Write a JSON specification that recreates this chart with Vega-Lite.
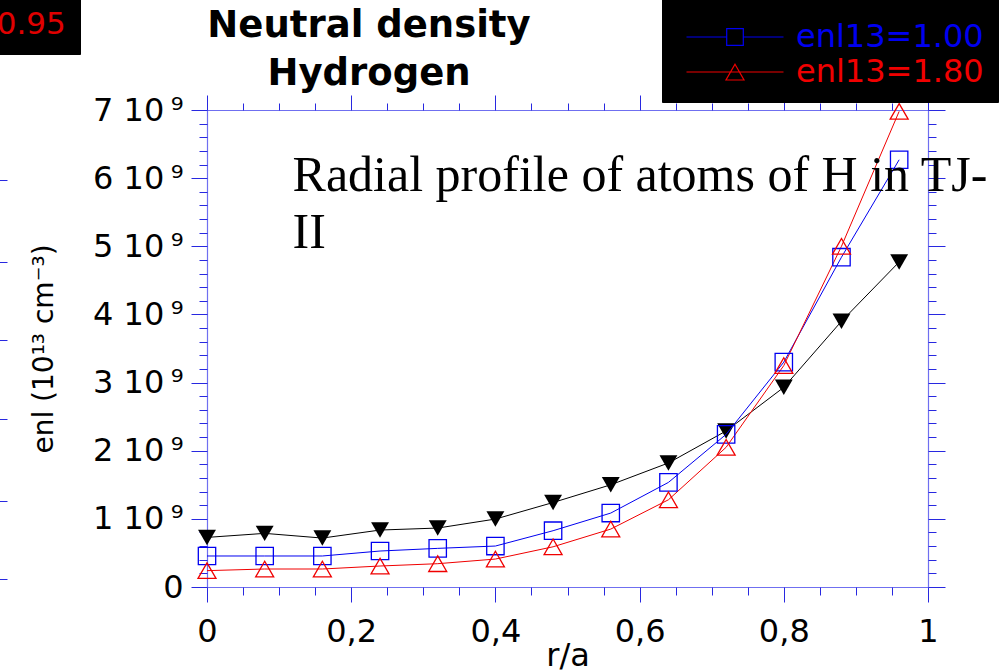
{
  "$schema": "https://vega.github.io/schema/vega-lite/v6.json",
  "width": 721,
  "height": 477,
  "autosize": {"type": "none"},
  "padding": {"left": 207, "top": 110, "right": 76, "bottom": 83},
  "background": "white",
  "config": {"view": {"stroke": null}, "axis": {"grid": false}},
  "title": {
    "text": ["Neutral density", "Hydrogen"],
    "anchor": "start",
    "align": "center",
    "dx": 162,
    "offset": -98,
    "font": "DejaVu Sans",
    "fontSize": 37,
    "fontWeight": "bold",
    "color": "black",
    "lineHeight": 48,
    "frame": "group"
  },
  "datasets": {
    "prof": [
      {"r": 0, "v": 7.28e8, "s": "enl13=0.95"},
      {"r": 0.08, "v": 7.87e8, "s": "enl13=0.95"},
      {"r": 0.16, "v": 7.18e8, "s": "enl13=0.95"},
      {"r": 0.24, "v": 8.36e8, "s": "enl13=0.95"},
      {"r": 0.32, "v": 8.65e8, "s": "enl13=0.95"},
      {"r": 0.4, "v": 9.97e8, "s": "enl13=0.95"},
      {"r": 0.48, "v": 1.24e9, "s": "enl13=0.95"},
      {"r": 0.56, "v": 1.5e9, "s": "enl13=0.95"},
      {"r": 0.64, "v": 1.82e9, "s": "enl13=0.95"},
      {"r": 0.72, "v": 2.29e9, "s": "enl13=0.95"},
      {"r": 0.8, "v": 2.93e9, "s": "enl13=0.95"},
      {"r": 0.88, "v": 3.9e9, "s": "enl13=0.95"},
      {"r": 0.96, "v": 4.77e9, "s": "enl13=0.95"},
      {"r": 0, "v": 4.55e8, "s": "enl13=1.00"},
      {"r": 0.08, "v": 4.55e8, "s": "enl13=1.00"},
      {"r": 0.16, "v": 4.55e8, "s": "enl13=1.00"},
      {"r": 0.24, "v": 5.28e8, "s": "enl13=1.00"},
      {"r": 0.32, "v": 5.67e8, "s": "enl13=1.00"},
      {"r": 0.4, "v": 6.01e8, "s": "enl13=1.00"},
      {"r": 0.48, "v": 8.26e8, "s": "enl13=1.00"},
      {"r": 0.56, "v": 1.085e9, "s": "enl13=1.00"},
      {"r": 0.64, "v": 1.535e9, "s": "enl13=1.00"},
      {"r": 0.72, "v": 2.24e9, "s": "enl13=1.00"},
      {"r": 0.8, "v": 3.3e9, "s": "enl13=1.00"},
      {"r": 0.88, "v": 4.84e9, "s": "enl13=1.00"},
      {"r": 0.96, "v": 6.27e9, "s": "enl13=1.00"},
      {"r": 0, "v": 2.4e8, "s": "enl13=1.80"},
      {"r": 0.08, "v": 2.64e8, "s": "enl13=1.80"},
      {"r": 0.16, "v": 2.64e8, "s": "enl13=1.80"},
      {"r": 0.24, "v": 3.08e8, "s": "enl13=1.80"},
      {"r": 0.32, "v": 3.42e8, "s": "enl13=1.80"},
      {"r": 0.4, "v": 4.1e8, "s": "enl13=1.80"},
      {"r": 0.48, "v": 5.9e8, "s": "enl13=1.80"},
      {"r": 0.56, "v": 8.5e8, "s": "enl13=1.80"},
      {"r": 0.64, "v": 1.28e9, "s": "enl13=1.80"},
      {"r": 0.72, "v": 2.05e9, "s": "enl13=1.80"},
      {"r": 0.8, "v": 3.25e9, "s": "enl13=1.80"},
      {"r": 0.88, "v": 5.0e9, "s": "enl13=1.80"},
      {"r": 0.96, "v": 6.98e9, "s": "enl13=1.80"}
    ],
    "note": [{"label": "Radial profile of atoms of H in TJ-\nII", "r": 0.1187, "v": 5.81e9}]
  },
  "data": {"name": "prof"},
  "layer": [
    {
      "transform": [{"filter": "datum.s === 'enl13=0.95'"}],
      "mark": {"type": "line", "color": "black", "strokeWidth": 1},
      "encoding": {
        "x": {"field": "r", "type": "quantitative", "scale": {"domain": [0, 1], "nice": false, "zero": false},
          "axis": {"orient": "bottom", "values": [0, 0.2, 0.4, 0.6, 0.8, 1], "tickSize": 15, "tickColor": "#2828e0", "domainColor": "#6f6ff0", "domainWidth": 1.2,
            "labelExpr": "replace(format(datum.value, '~g'), '.', ',')", "labelFont": "DejaVu Sans", "labelFontSize": 32, "labelColor": "black", "labelPadding": 14, "labelFlush": false, "labelOverlap": false,
            "title": "r/a", "titleFont": "DejaVu Sans", "titleFontSize": 32, "titleFontWeight": "normal", "titleColor": "black", "titleX": 360.5, "titleY": 53, "titleBaseline": "top", "titleAlign": "center"}},
        "y": {"field": "v", "type": "quantitative", "scale": {"domain": [0, 7e9], "nice": false, "zero": false},
          "axis": {"orient": "left", "values": [0, 1e9, 2e9, 3e9, 4e9, 5e9, 6e9, 7e9], "tickSize": 16, "tickColor": "#2828e0", "domainColor": "#6f6ff0", "domainWidth": 1.2,
            "labelExpr": "datum.value == 0 ? '0' : format(datum.value / 1e9, 'd') + ' 10\u2009⁹'", "labelFont": "DejaVu Sans", "labelFontSize": 32, "labelColor": "black", "labelPadding": 8, "labelFlush": false, "labelOverlap": false, "labelBaseline": "middle",
            "title": "enl (10¹³ cm⁻³)", "titleFont": "DejaVu Sans", "titleFontSize": 28, "titleFontWeight": "normal", "titleColor": "black", "titleX": -155, "titleY": 238.5, "titleBaseline": "alphabetic", "titleAngle": -90, "titleAlign": "center"}}
      }
    },
    {
      "transform": [{"filter": "datum.s === 'enl13=0.95'"}],
      "mark": {"type": "point", "shape": "triangle-down", "filled": true, "size": 320, "opacity": 1},
      "encoding": {
        "x": {"field": "r", "type": "quantitative",
          "axis": {"orient": "bottom", "values": [0, 0.05, 0.1, 0.15, 0.2, 0.25, 0.3, 0.35, 0.4, 0.45, 0.5, 0.55, 0.6, 0.65, 0.7, 0.75, 0.8, 0.85, 0.9, 0.95, 1], "tickSize": 8, "tickColor": "#2828e0", "labels": false, "domain": false, "title": null}},
        "y": {"field": "v", "type": "quantitative",
          "axis": {"orient": "left", "values": [0, 2e8, 4e8, 6e8, 8e8, 1e9, 1.2e9, 1.4e9, 1.6e9, 1.8e9, 2e9, 2.2e9, 2.4e9, 2.6e9, 2.8e9, 3e9, 3.2e9, 3.4e9, 3.6e9, 3.8e9, 4e9, 4.2e9, 4.4e9, 4.6e9, 4.8e9, 5e9, 5.2e9, 5.4e9, 5.6e9, 5.8e9, 6e9, 6.2e9, 6.4e9, 6.6e9, 6.8e9, 7e9], "tickSize": 8, "tickColor": "#2828e0", "labels": false, "domain": false, "title": null}},
        "fill": {"field": "s", "type": "nominal", "scale": {"domain": ["enl13=0.95"], "range": ["black"]},
          "legend": {"orient": "none", "legendX": -378, "legendY": -115, "title": null, "fillColor": "black", "strokeColor": "black", "padding": 14,
            "labelFont": "DejaVu Sans", "labelFontSize": 31, "labelColor": "#e00000", "labelLimit": 400, "labelOffset": 10, "symbolSize": 100, "symbolType": "triangle-down"}}
      }
    },
    {
      "transform": [{"filter": "datum.s !== 'enl13=0.95'"}],
      "mark": {"type": "line", "strokeWidth": 1},
      "encoding": {
        "x": {"field": "r", "type": "quantitative",
          "axis": {"orient": "top", "values": [0, 0.2, 0.4, 0.6, 0.8, 1], "tickSize": 15, "tickColor": "#2828e0", "domainColor": "#6f6ff0", "domainWidth": 1.2, "labels": false, "title": null}},
        "y": {"field": "v", "type": "quantitative",
          "axis": {"orient": "right", "values": [0, 1e9, 2e9, 3e9, 4e9, 5e9, 6e9, 7e9], "tickSize": 17, "tickColor": "#2828e0", "domainColor": "#6f6ff0", "domainWidth": 1.2, "labels": false, "title": null}},
        "color": {"field": "s", "type": "nominal", "scale": {"domain": ["enl13=1.00", "enl13=1.80"], "range": ["#0000f0", "#f00000"]},
          "legend": {"orient": "none", "legendX": 455, "legendY": -111, "title": " ", "titleFontSize": 8, "titlePadding": 0, "fillColor": "black", "strokeColor": "black", "padding": 14,
            "labelFont": "DejaVu Sans", "labelFontSize": 32, "labelLimit": 400, "labelOffset": 45, "symbolOffset": 43, "symbolSize": 100, "symbolStrokeWidth": 1.2, "rowPadding": 3,
            "symbolFillColor": "transparent",
            "symbolType": {"expr": "datum.value === 'enl13=1.00' ? 'M-9.7,0L-1.66,0M1.66,0L9.7,0M-1.66,-1.66L1.66,-1.66L1.66,1.66L-1.66,1.66Z' : 'M-9.7,0L9.7,0M0,-1.54L1.8,1.6L-1.8,1.6Z'"},
            "labelColor": {"expr": "datum.value === 'enl13=1.00' ? '#0000f0' : '#f00000'"}}}
      }
    },
    {
      "transform": [{"filter": "datum.s !== 'enl13=0.95'"}],
      "mark": {"type": "point", "filled": false, "strokeWidth": 1.3, "opacity": 1},
      "encoding": {
        "x": {"field": "r", "type": "quantitative",
          "axis": {"orient": "top", "values": [0, 0.05, 0.1, 0.15, 0.2, 0.25, 0.3, 0.35, 0.4, 0.45, 0.5, 0.55, 0.6, 0.65, 0.7, 0.75, 0.8, 0.85, 0.9, 0.95, 1], "tickSize": 7, "tickColor": "#2828e0", "labels": false, "domain": false, "title": null}},
        "y": {"field": "v", "type": "quantitative",
          "axis": {"orient": "right", "values": [0, 2e8, 4e8, 6e8, 8e8, 1e9, 1.2e9, 1.4e9, 1.6e9, 1.8e9, 2e9, 2.2e9, 2.4e9, 2.6e9, 2.8e9, 3e9, 3.2e9, 3.4e9, 3.6e9, 3.8e9, 4e9, 4.2e9, 4.4e9, 4.6e9, 4.8e9, 5e9, 5.2e9, 5.4e9, 5.6e9, 5.8e9, 6e9, 6.2e9, 6.4e9, 6.6e9, 6.8e9, 7e9], "tickSize": 8, "tickColor": "#2828e0", "labels": false, "domain": false, "title": null}},
        "color": {"field": "s", "type": "nominal", "legend": null},
        "shape": {"field": "s", "type": "nominal", "scale": {"domain": ["enl13=1.80", "enl13=1.00"], "range": ["triangle-up", "square"]}, "legend": null},
        "size": {"field": "s", "type": "nominal", "scale": {"domain": ["enl13=1.80", "enl13=1.00", "x"], "range": [324, 280, 100]}, "legend": null}
      }
    },
    {
      "data": {"name": "note"},
      "mark": {"type": "text", "font": "Liberation Serif", "fontSize": 50, "align": "left", "baseline": "alphabetic", "lineBreak": "\n", "lineHeight": 57, "color": "black"},
      "encoding": {
        "x": {"field": "r", "type": "quantitative", "axis": null},
        "y": {"field": "v", "type": "quantitative",
          "axis": {"orient": "left", "offset": 200, "values": [1.13e8, 1.257e9, 2.46e9, 3.62e9, 4.765e9, 5.969e9, 7.128e9], "tickSize": 8, "tickColor": "#2828e0", "labels": false, "domain": false, "title": null}},
        "text": {"field": "label"}
      }
    }
  ],
  "resolve": {"axis": {"x": "independent", "y": "independent"}}
}
